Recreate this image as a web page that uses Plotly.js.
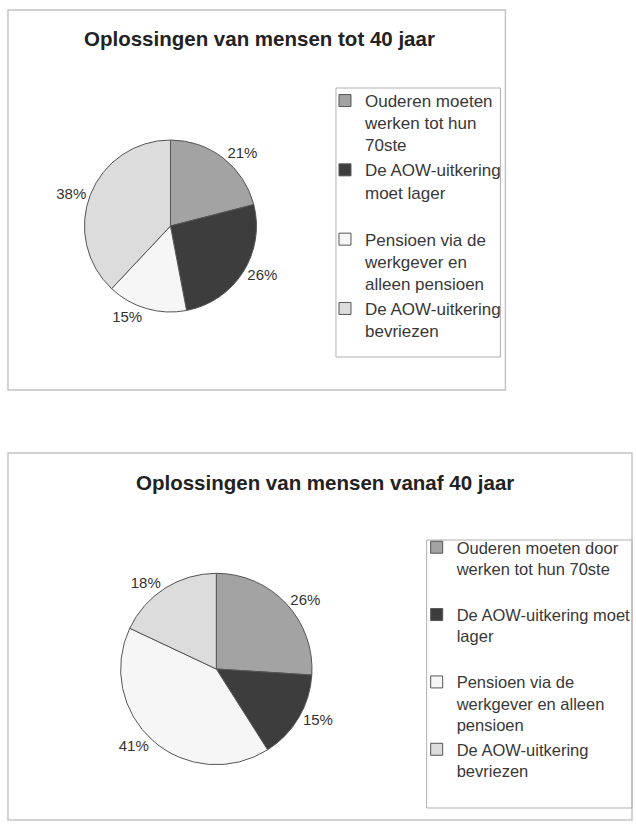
<!DOCTYPE html>
<html>
<head>
<meta charset="utf-8">
<script src="https://cdn.plot.ly/plotly-3.0.1.min.js"></script>
<style>html,body{margin:0;padding:0;background:#fff;}#chart{width:636px;height:829px;}</style>
</head>
<body>
<div id="chart"></div>
<script>
// ---- data ----
var title1 = "Oplossingen van mensen tot 40 jaar";
var title2 = "Oplossingen van mensen vanaf 40 jaar";
var categories1 = [
  "Ouderen moeten<br>werken tot hun<br>70ste",
  "De AOW-uitkering<br>moet lager",
  "Pensioen via de<br>werkgever en<br>alleen pensioen",
  "De AOW-uitkering<br>bevriezen"
];
var categories2 = [
  "Ouderen moeten door<br>werken tot hun 70ste",
  "De AOW-uitkering moet<br>lager",
  "Pensioen via de<br>werkgever en alleen<br>pensioen",
  "De AOW-uitkering<br>bevriezen"
];
var values1 = [21, 26, 15, 38];
var values2 = [26, 15, 41, 18];
var sliceColors = ["#a3a3a3", "#3d3d3d", "#f6f6f6", "#dcdcdc"];

// ---- layout helpers ----
var W = 636, H = 829;
function px(x){ return x / W; }
function py(y){ return 1 - y / H; }
// pad legend entries to an equal number of lines (evenly spaced legend items);
// a different filler per chart keeps each chart's legend entries separate
function pad(labels, n, filler){
  return labels.map(function(l){
    var k = l.split("<br>").length;
    var s = l;
    for (var i = k; i < n; i++) s += "<br>" + filler;
    return s;
  });
}

var font = "Liberation Sans, Arial, sans-serif";

var trace1 = {
  type: "pie",
  labels: pad(categories1, 3, "\u00a0"),
  values: values1,
  sort: false,
  direction: "clockwise",
  rotation: 0,
  marker: {colors: sliceColors, line: {color: "#555", width: 1}},
  textinfo: "percent",
  texttemplate: "%{percent:.0%}",
  textposition: "outside",
  outsidetextfont: {family: font, size: 15, color: "#333"},
  domain: {x: [px(84), px(258)], y: [py(312), py(140)]},
  legend: "legend",
  hoverinfo: "label+percent"
};
var trace2 = {
  type: "pie",
  labels: pad(categories2, 3, "\u00a0\u00a0"),
  values: values2,
  sort: false,
  direction: "clockwise",
  rotation: 0,
  marker: {colors: sliceColors, line: {color: "#555", width: 1}},
  textinfo: "percent",
  texttemplate: "%{percent:.0%}",
  textposition: "outside",
  outsidetextfont: {family: font, size: 15, color: "#333"},
  domain: {x: [px(121), px(313)], y: [py(766), py(572)]},
  legend: "legend2",
  hoverinfo: "label+percent"
};

var legendCommon = {
  bgcolor: "rgba(0,0,0,0)",
  borderwidth: 0,
  valign: "top",
  xanchor: "left",
  yanchor: "top",
  traceorder: "normal"
};

var layout = {
  width: W, height: H,
  margin: {l: 0, r: 0, t: 0, b: 0},
  paper_bgcolor: "#fff",
  showlegend: true,
  legend: Object.assign({}, legendCommon, {x: px(326), y: py(83),
    font: {family: font, size: 17, color: "#383838"}}),
  legend2: Object.assign({}, legendCommon, {x: px(418), y: py(530),
    font: {family: font, size: 16.5, color: "#383838"}}),
  shapes: [
    {type: "rect", xref: "paper", yref: "paper", x0: px(8), x1: px(507), y0: py(390), y1: py(10),
     line: {color: "#c4c4c4", width: 1.5}},
    {type: "rect", xref: "paper", yref: "paper", x0: px(337), x1: px(502), y0: py(357), y1: py(88),
     line: {color: "#b0b0b0", width: 1}},
    {type: "rect", xref: "paper", yref: "paper", x0: px(8), x1: px(634), y0: py(820), y1: py(453),
     line: {color: "#c4c4c4", width: 1.5}},
    {type: "rect", xref: "paper", yref: "paper", x0: px(428), x1: px(634), y0: py(808), y1: py(540),
     line: {color: "#b0b0b0", width: 1}}
  ],
  annotations: [
    {text: "<b>" + title1 + "</b>", xref: "paper", yref: "paper", x: px(260), y: py(38),
     xanchor: "center", yanchor: "middle", showarrow: false,
     font: {family: font, size: 20.5, color: "#222"}},
    {text: "<b>" + title2 + "</b>", xref: "paper", yref: "paper", x: px(326), y: py(482),
     xanchor: "center", yanchor: "middle", showarrow: false,
     font: {family: font, size: 20.5, color: "#222"}}
  ]
};

Plotly.newPlot("chart", [trace1, trace2], layout, {displayModeBar: false, staticPlot: true});
</script>
</body>
</html>
